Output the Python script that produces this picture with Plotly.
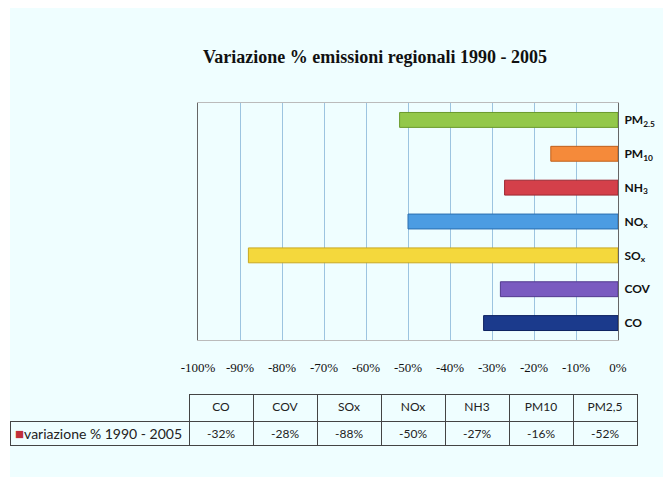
import plotly.graph_objects as go

# ---- data ----
categories = ["CO", "COV", "SOx", "NOx", "NH3", "PM10", "PM2,5"]
axis_labels = ["CO", "COV", "SO<sub>x</sub>", "NO<sub>x</sub>", "NH<sub>3</sub>",
               "PM<sub>10</sub>", "PM<sub>2.5</sub>"]
values = [-32, -28, -88, -50, -27, -16, -52]
series_name = "variazione % 1990 - 2005"
x_tick_vals = [-100, -90, -80, -70, -60, -50, -40, -30, -20, -10, 0]
x_tick_text = ["-100%", "-90%", "-80%", "-70%", "-60%", "-50%", "-40%",
               "-30%", "-20%", "-10%", "0%"]
title_text = "Variazione % emissioni regionali 1990 - 2005"

# ---- styles ----
bar_colors = ["#1B3A8C", "#7A5BC0", "#F4D83C", "#4C9CE2", "#D4404A", "#F58A3A", "#93C84A"]
bar_edges = ["#0E2260", "#523A8E", "#C9A820", "#2A6FB0", "#9C2630", "#C0601C", "#6A9A2C"]
W, H = 663, 477
bg = "#EFFEFF"

fig = go.Figure()
fig.add_trace(go.Bar(
    x=values, y=categories, orientation="h",
    marker=dict(color=bar_colors, line=dict(color=bar_edges, width=1)),
    width=0.44, showlegend=False, hoverinfo="x+y",
))

# data table below the chart (series label drawn as rich-text annotation in its cell)
header_vals = [""] + categories
cell_vals = [[""]] + [[f"{v}%"] for v in values]
line_cols = ["rgba(0,0,0,0)"] + ["#444444"] * len(categories)
fig.add_trace(go.Table(
    domain=dict(x=[10 / W, 637 / W], y=[0, 1 - 394 / H]),
    columnwidth=[179] + [64] * len(categories),
    header=dict(values=header_vals, height=27, align="center",
                fill_color="rgba(0,0,0,0)", line=dict(color=line_cols, width=1),
                font=dict(family="Lato, Noto Sans, sans-serif", size=12, color="#222222")),
    cells=dict(values=cell_vals, height=24, align="center",
               fill_color="rgba(0,0,0,0)", line=dict(color="#444444", width=1),
               font=dict(family="Lato, Noto Sans, sans-serif", size=12, color="#222222")),
))

label_txt = f"<span style='color:#C0303A;font-size:15px'>■</span>{series_name}"

fig.update_layout(
    width=W, height=H,
    margin=dict(l=0, r=0, t=0, b=0, autoexpand=False),
    paper_bgcolor="white",
    plot_bgcolor="rgba(0,0,0,0)",
    title=dict(text=title_text, x=375 / W, xanchor="center", y=1 - 57 / H, yanchor="middle",
               font=dict(family="Liberation Serif, serif", size=18, color="#111111", weight="bold")),
    shapes=[dict(type="rect", xref="paper", yref="paper", x0=10 / W, x1=1, y0=0, y1=1 - 8 / H,
                 fillcolor=bg, line=dict(width=0), layer="below")],
    annotations=[dict(text=label_txt, xref="paper", yref="paper", x=13 / W, y=1 - 433 / H,
                      xanchor="left", yanchor="middle", showarrow=False,
                      font=dict(family="Lato, Noto Sans, sans-serif", size=14, color="#222222"))],
    bargap=0.56,
    xaxis=dict(domain=[198 / W, 618 / W], range=[-100, 0], automargin=False,
               tickvals=x_tick_vals, ticktext=x_tick_text,
               showgrid=True, gridcolor="#9CC4E0", gridwidth=1,
               zeroline=False, showline=True, linecolor="#BBBBBB", mirror=True,
               ticks="", ticklabelstandoff=15,
               tickfont=dict(family="Liberation Serif, serif", size=13, color="#111111")),
    yaxis=dict(domain=[1 - 340 / H, 1 - 103 / H], side="right", automargin=False,
               categoryorder="array", categoryarray=categories,
               tickvals=categories, ticktext=axis_labels,
               showgrid=False, zeroline=False, showline=True, linecolor="#666666", mirror=True,
               ticks="", ticklabelstandoff=3,
               tickfont=dict(family="Lato, Noto Sans, sans-serif", size=12, color="#111111",
                             weight="bold")),
)

fig.write_html("out.html", config={"displayModeBar": False},
               post_script="document.body.style.margin='0';document.body.style.overflow='hidden';")
